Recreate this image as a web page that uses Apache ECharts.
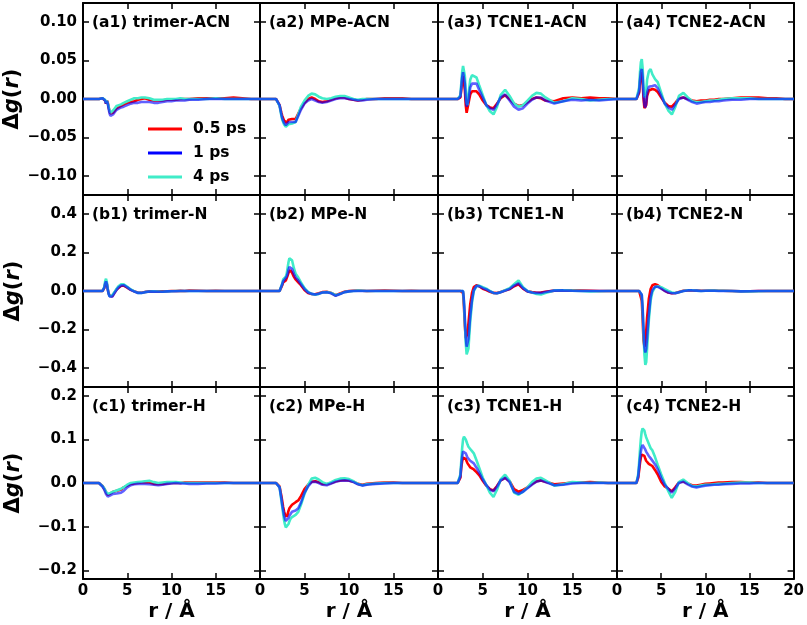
<!DOCTYPE html>
<html>
<head>
<meta charset="utf-8">
<script src="https://cdn.jsdelivr.net/npm/echarts@6/dist/echarts.min.js"></script>
<style>html,body{margin:0;padding:0;background:#fff}#c{width:807px;height:625px}</style>
</head>
<body>
<div id="c"></div>
<script>
// shared r grid (Å)
const R = [0,1.8,2.0,2.2, 2.4,2.5,2.6,2.7,2.8,2.9, 3.0,3.1,3.2,3.3,3.4,3.6,3.8, 4.0,4.3,4.6,5.0,5.4,5.8, 6.2,6.6,7.0,7.5,8.0,8.5, 9.0,9.5,10,10.5,11,11.5, 12,13,14,15,16,17,18,19,20];
const seriesNames = ['0.5 ps','1 ps','4 ps'];
const panelTitles = [
  '(a1) trimer-ACN','(a2) MPe-ACN','(a3) TCNE1-ACN','(a4) TCNE2-ACN',
  '(b1) trimer-N','(b2) MPe-N','(b3) TCNE1-N','(b4) TCNE2-N',
  '(c1) trimer-H','(c2) MPe-H','(c3) TCNE1-H','(c4) TCNE2-H'];
const xTicks = [0,5,10,15,20];
const xLabelsInner = [0,5,10,15];
const xLabelsLast = [0,5,10,15,20];
const yTicksA = [-0.10,-0.05,0.00,0.05,0.10];
const yTicksB = [-0.4,-0.2,0.0,0.2,0.4];
const yTicksC = [-0.2,-0.1,0.0,0.1,0.2];

const a1_red  = [0,0,0,0.001, 0.002,-0.002,-0.006,-0.002,-0.005,-0.011, -0.016,-0.019,-0.021,-0.020,-0.018,-0.015,-0.012, -0.010,-0.009,-0.007,-0.005,-0.004,-0.003, -0.001,0.000,0.001,-0.001,-0.002,-0.002, -0.002,-0.001,-0.001,-0.001,0.000,0.000, 0.000,0.001,0.001,0.001,0.001,0.002,0.001,0.000,0.000];
const a1_blue = [0,0,0,0.001, 0.002,-0.002,-0.006,-0.003,-0.006,-0.013, -0.019,-0.022,-0.023,-0.022,-0.020,-0.017,-0.014, -0.012,-0.011,-0.010,-0.008,-0.006,-0.005, -0.005,-0.004,-0.004,-0.004,-0.005,-0.005, -0.004,-0.003,-0.003,-0.002,-0.002,-0.002, -0.001,-0.001,0.000,0.000,0.000,0.000,0.000,0.000,0.000];
const a1_turq = [0,0,0,0.001, 0.002,-0.001,-0.005,-0.002,-0.004,-0.010, -0.015,-0.018,-0.019,-0.017,-0.015,-0.012,-0.009, -0.008,-0.007,-0.005,-0.003,-0.001,0.001, 0.001,0.002,0.002,0.001,-0.001,-0.001, -0.001,0.000,0.000,0.000,0.001,0.000, 0.000,0.000,0.000,0.001,0.000,0.000,0.000,0.000,0.000];

const a2_red  = [0,0,0,-0.008, -0.018,-0.022,-0.025,-0.028,-0.029,-0.030, -0.031,-0.029,-0.027,-0.026,-0.026,-0.026,-0.027, -0.026,-0.019,-0.012,-0.005,0.000,0.002, 0.000,-0.003,-0.004,-0.003,-0.001,0.001, 0.002,0.002,0.000,-0.001,-0.002,-0.001, 0.000,0.000,0.001,0.001,0.001,0.000,0.000,0.000,0.000];
const a2_blue = [0,0,0,-0.008, -0.020,-0.025,-0.028,-0.031,-0.033,-0.034, -0.034,-0.032,-0.030,-0.029,-0.030,-0.030,-0.031, -0.030,-0.022,-0.014,-0.006,-0.002,0.000, -0.002,-0.004,-0.005,-0.004,-0.002,0.000, 0.001,0.001,0.000,-0.001,-0.002,-0.002, -0.001,0.000,0.000,0.000,0.000,0.000,0.000,0.000,0.000];
const a2_turq = [0,0,0,-0.009, -0.022,-0.027,-0.030,-0.033,-0.035,-0.036, -0.037,-0.035,-0.033,-0.032,-0.032,-0.032,-0.033, -0.030,-0.020,-0.010,-0.002,0.004,0.007, 0.006,0.003,0.001,0.000,0.001,0.003, 0.004,0.004,0.002,0.000,-0.001,0.000, 0.000,0.000,0.000,0.000,0.000,0.000,0.000,0.000,0.000];

const a3_red  = [0,0,0,0, 0,0.002,0.012,0.024,0.030,0.028, 0.012,-0.008,-0.018,-0.016,-0.006,0.006,0.010, 0.011,0.010,0.006,-0.002,-0.008,-0.011, -0.012,-0.006,0.001,0.005,0.000,-0.006, -0.009,-0.008,-0.004,0.000,0.002,0.001, -0.002,-0.003,0.001,0.002,0.001,0.002,0.001,0.001,0.000];
const a3_blue = [0,0,0,0, 0,0.003,0.015,0.028,0.035,0.033, 0.020,0.000,-0.010,-0.012,-0.002,0.015,0.020, 0.022,0.020,0.012,0.002,-0.008,-0.012, -0.014,-0.007,0.002,0.006,-0.002,-0.010, -0.014,-0.012,-0.006,-0.001,0.002,0.002, -0.002,-0.006,-0.003,-0.001,-0.002,-0.001,-0.002,-0.001,0.000];
const a3_turq = [0,0,0,0, 0,0.005,0.020,0.035,0.043,0.045, 0.030,0.010,-0.005,-0.008,0.005,0.025,0.031, 0.032,0.028,0.018,0.005,-0.008,-0.016, -0.020,-0.010,0.005,0.012,0.004,-0.006, -0.010,-0.008,-0.002,0.004,0.008,0.007, 0.002,-0.005,-0.003,0.001,0.000,-0.002,-0.001,0.000,0.000];

const a4_red  = [0,0,0,0, 0,0.008,0.022,0.032,0.035,0.022, 0.000,-0.012,-0.014,-0.008,0.004,0.011,0.012, 0.013,0.012,0.009,0.002,-0.005,-0.009, -0.010,-0.005,0.001,0.002,0.000,-0.002, -0.003,-0.002,-0.002,-0.001,-0.001,0.000, 0.000,0.001,0.002,0.002,0.002,0.001,0.001,0.000,0.000];
const a4_blue = [0,0,0,0, 0,0.010,0.025,0.036,0.039,0.028, 0.005,-0.008,-0.011,-0.005,0.008,0.016,0.018, 0.017,0.018,0.014,0.004,-0.006,-0.011, -0.014,-0.007,0.000,0.002,-0.001,-0.004, -0.006,-0.005,-0.004,-0.004,-0.003,-0.003, -0.002,-0.001,-0.001,0.000,0.000,0.000,0.000,0.000,0.000];
const a4_turq = [0,0,0,0, 0,0.015,0.035,0.048,0.052,0.040, 0.015,0.002,0.000,0.010,0.025,0.036,0.039, 0.032,0.026,0.022,0.008,-0.006,-0.015, -0.020,-0.010,0.004,0.008,0.002,-0.003, -0.004,-0.004,-0.003,-0.002,-0.002,-0.001, 0.000,0.001,0.001,0.001,0.000,0.000,0.000,0.000,0.000];

const b1_red  = [0,0,0,0, 0.015,0.035,0.048,0.035,0.008,-0.012, -0.024,-0.030,-0.032,-0.027,-0.020,-0.006,0.008, 0.018,0.027,0.028,0.018,0.006,-0.002, -0.008,-0.009,-0.005,-0.002,-0.001,-0.002, -0.002,-0.001,0.000,0.000,0.001,0.000, 0.002,0.001,0.000,0.001,0.000,0.000,0.000,0.000,0.000];
const b1_blue = [0,0,0,0, 0.016,0.038,0.050,0.036,0.006,-0.016, -0.028,-0.034,-0.036,-0.030,-0.022,-0.008,0.006, 0.018,0.028,0.030,0.019,0.006,-0.003, -0.010,-0.010,-0.006,-0.003,-0.003,-0.004, -0.004,-0.002,-0.001,-0.001,0.000,0.000, 0.000,0.000,0.000,0.000,0.000,0.000,0.000,0.000,0.000];
const b1_turq = [0,0,0,0, 0.020,0.050,0.064,0.045,0.010,-0.015, -0.028,-0.033,-0.030,-0.022,-0.015,-0.002,0.012, 0.025,0.035,0.035,0.022,0.008,-0.002, -0.010,-0.010,-0.006,-0.003,-0.002,-0.003, -0.004,-0.002,-0.001,0.000,0.000,0.000, 0.000,0.000,0.000,0.000,0.000,0.000,0.000,0.000,0.000];

const b2_red  = [0,0,0,0, 0.008,0.030,0.045,0.050,0.052,0.055, 0.065,0.080,0.095,0.105,0.108,0.095,0.075, 0.060,0.045,0.030,0.005,-0.010,-0.016, -0.017,-0.012,-0.006,-0.004,-0.010,-0.022, -0.013,-0.004,0.000,0.001,0.002,0.001, 0.000,0.001,0.002,0.001,0.000,0.001,0.000,0.000,0.000];
const b2_blue = [0,0,0,0, 0.009,0.035,0.050,0.058,0.062,0.065, 0.075,0.090,0.110,0.125,0.130,0.115,0.090, 0.070,0.055,0.035,0.010,-0.008,-0.015, -0.018,-0.014,-0.008,-0.007,-0.012,-0.025, -0.016,-0.006,-0.002,0.000,0.000,0.000, 0.000,0.000,0.000,0.000,0.000,0.000,0.000,0.000,0.000];
const b2_turq = [0,0,0,0, 0.010,0.040,0.060,0.065,0.070,0.075, 0.090,0.120,0.150,0.170,0.178,0.160,0.120, 0.090,0.070,0.045,0.015,-0.005,-0.015, -0.020,-0.015,-0.008,-0.006,-0.010,-0.022, -0.015,-0.006,-0.002,0.000,0.002,0.001, 0.000,0.000,0.000,0.000,0.000,0.000,0.000,0.000,0.000];

const b3_red  = [0,0,0,0, 0,0,0,0,-0.010,-0.080, -0.180,-0.245,-0.250,-0.220,-0.170,-0.070,-0.010, 0.020,0.030,0.025,0.012,0.005,-0.004, -0.010,-0.011,-0.005,0.003,0.010,0.025, 0.035,0.012,-0.002,-0.006,-0.009,-0.008, -0.004,0.002,0.004,0.003,0.002,0.001,0.000,0.000,0.000];
const b3_blue = [0,0,0,0, 0,0,0,0,0,-0.050, -0.140,-0.240,-0.290,-0.290,-0.250,-0.130,-0.045, 0.005,0.027,0.025,0.015,0.008,-0.002, -0.010,-0.012,-0.006,0.002,0.010,0.028, 0.040,0.015,-0.002,-0.008,-0.010,-0.010, -0.005,0.002,0.003,0.001,0.000,0.000,0.000,0.000,0.000];
const b3_turq = [0,0,0,0, 0,0,0,0,0,-0.060, -0.160,-0.270,-0.330,-0.340,-0.300,-0.160,-0.060, 0.000,0.025,0.028,0.020,0.012,0.000, -0.010,-0.012,-0.006,0.004,0.015,0.035, 0.055,0.020,0.000,-0.008,-0.015,-0.018, -0.010,0.003,0.004,0.002,0.000,-0.002,-0.001,0.000,0.000];

const b4_red  = [0,0,0,0, 0,0,0,-0.010,-0.050,-0.150, -0.260,-0.290,-0.270,-0.210,-0.140,-0.040,0.010, 0.030,0.036,0.030,0.015,0.002,-0.008, -0.012,-0.010,-0.005,0.001,0.003,0.003, 0.002,0.001,0.001,0.002,0.002,0.001, 0.001,0.000,-0.001,-0.001,0.000,0.000,0.000,0.000,0.000];
const b4_blue = [0,0,0,0, 0,0,0,0,-0.020,-0.090, -0.200,-0.290,-0.320,-0.300,-0.240,-0.120,-0.030, 0.005,0.022,0.022,0.012,0.000,-0.008, -0.012,-0.012,-0.006,0.000,0.003,0.003, 0.002,0.000,0.001,0.001,0.001,0.000, 0.000,0.000,-0.002,-0.001,0.000,0.000,0.000,0.000,0.000];
const b4_turq = [0,0,0,0, 0,0,0,0,-0.020,-0.100, -0.220,-0.330,-0.385,-0.370,-0.300,-0.150,-0.050, -0.005,0.020,0.025,0.020,0.010,0.000, -0.008,-0.010,-0.006,0.000,0.004,0.004, 0.002,0.000,0.001,0.002,0.002,0.001, 0.001,0.000,-0.002,-0.002,-0.001,0.000,0.000,0.000,0.000];

const c1_red  = [0,0,-0.002,-0.007, -0.013,-0.017,-0.021,-0.024,-0.027,-0.026, -0.025,-0.024,-0.023,-0.022,-0.020,-0.019,-0.018, -0.018,-0.015,-0.010,-0.006,-0.002,-0.001, 0.000,0.001,0.002,0.001,-0.002,-0.003, -0.002,-0.001,0.000,0.000,0.000,0.001, 0.001,0.001,0.001,0.001,0.001,0.000,0.000,0.000,0.000];
const c1_blue = [0,0,-0.002,-0.008, -0.015,-0.020,-0.025,-0.028,-0.031,-0.030, -0.029,-0.028,-0.027,-0.026,-0.025,-0.024,-0.024, -0.023,-0.022,-0.018,-0.010,-0.005,-0.003, -0.002,-0.002,-0.002,-0.003,-0.004,-0.005, -0.004,-0.002,-0.001,0.000,-0.001,-0.001, -0.002,-0.002,-0.001,-0.001,0.000,0.000,0.000,0.000,0.000];
const c1_turq = [0,0,-0.002,-0.007, -0.012,-0.016,-0.020,-0.023,-0.025,-0.025, -0.024,-0.023,-0.022,-0.021,-0.020,-0.018,-0.017, -0.016,-0.013,-0.010,-0.004,0.000,0.001, 0.002,0.003,0.004,0.005,0.002,0.000, 0.001,0.002,0.002,0.002,0.001,0.000, 0.000,0.000,0.000,0.000,0.000,0.000,0.000,0.000,0.000];

const c2_red  = [0,0,0,-0.008, -0.030,-0.042,-0.055,-0.065,-0.072,-0.076, -0.077,-0.072,-0.064,-0.058,-0.055,-0.050,-0.046, -0.044,-0.040,-0.030,-0.014,-0.004,0.003, 0.004,0.002,-0.002,-0.003,0.000,0.004, 0.006,0.007,0.006,0.003,-0.002,-0.004, -0.002,0.000,0.001,0.001,0.000,0.000,0.000,0.000,0.000];
const c2_blue = [0,0,0,-0.010, -0.035,-0.050,-0.062,-0.074,-0.082,-0.087, -0.088,-0.085,-0.080,-0.075,-0.071,-0.066,-0.064, -0.063,-0.058,-0.045,-0.022,-0.008,0.002, 0.003,0.000,-0.004,-0.005,-0.001,0.003, 0.005,0.006,0.005,0.002,-0.003,-0.006, -0.004,-0.002,-0.001,0.000,0.000,0.000,0.000,0.000,0.000];
const c2_turq = [0,0,0,-0.010, -0.040,-0.055,-0.070,-0.085,-0.095,-0.102, -0.104,-0.100,-0.094,-0.088,-0.083,-0.078,-0.075, -0.073,-0.066,-0.050,-0.025,-0.005,0.010, 0.012,0.008,0.002,-0.002,0.002,0.007, 0.010,0.011,0.009,0.004,-0.002,-0.005, -0.003,-0.001,0.000,0.000,0.000,0.000,0.000,0.000,0.000];

const c3_red  = [0,0,0,0, 0,0.012,0.035,0.050,0.058,0.061, 0.060,0.055,0.050,0.045,0.041,0.036,0.033, 0.031,0.025,0.018,0.005,-0.006,-0.014, -0.017,-0.007,0.006,0.012,0.004,-0.014, -0.020,-0.016,-0.010,-0.002,0.004,0.006, 0.003,-0.003,-0.001,0.001,0.001,0.002,0.001,0.000,0.000];
const c3_blue = [0,0,0,0, 0,0.015,0.040,0.060,0.072,0.076, 0.074,0.068,0.063,0.058,0.055,0.051,0.048, 0.045,0.035,0.024,0.008,-0.005,-0.015, -0.019,-0.008,0.006,0.012,0.002,-0.020, -0.025,-0.020,-0.012,-0.004,0.003,0.006, 0.002,-0.005,-0.004,-0.001,0.000,0.000,0.000,0.000,0.000];
const c3_turq = [0,0,0,0, 0,0.020,0.050,0.080,0.100,0.106, 0.107,0.100,0.094,0.088,0.083,0.078,0.073, 0.068,0.052,0.035,0.012,-0.005,-0.022, -0.032,-0.015,0.008,0.019,0.005,-0.022, -0.027,-0.020,-0.010,0.002,0.010,0.012, 0.006,-0.006,-0.003,0.002,0.001,0.000,0.001,0.000,0.000];

const c4_red  = [0,0,0,0, 0.012,0.028,0.045,0.058,0.065,0.067, 0.066,0.062,0.056,0.051,0.048,0.044,0.041, 0.039,0.030,0.020,0.003,-0.008,-0.013, -0.019,-0.010,0.001,0.004,-0.001,-0.005, -0.006,-0.004,-0.002,-0.001,0.000,0.001, 0.001,0.002,0.002,0.001,0.001,0.000,0.000,0.000,0.000];
const c4_blue = [0,0,0,0, 0.015,0.035,0.055,0.072,0.082,0.087, 0.088,0.083,0.077,0.072,0.068,0.062,0.057, 0.053,0.043,0.032,0.012,-0.004,-0.013, -0.022,-0.012,0.000,0.003,-0.003,-0.008, -0.010,-0.008,-0.006,-0.005,-0.004,-0.004, -0.003,-0.002,-0.001,-0.001,0.000,0.000,0.000,0.000,0.000];
const c4_turq = [0,0,0,0, 0.020,0.045,0.075,0.100,0.118,0.125, 0.127,0.120,0.112,0.105,0.100,0.090,0.080, 0.075,0.060,0.042,0.020,0.000,-0.018, -0.034,-0.020,0.002,0.008,0.000,-0.007, -0.008,-0.006,-0.004,-0.004,-0.003,-0.002, -0.002,0.000,0.001,0.001,0.000,0.000,0.000,0.000,0.000];

const panels = [
  [a1_red,a1_blue,a1_turq],[a2_red,a2_blue,a2_turq],[a3_red,a3_blue,a3_turq],[a4_red,a4_blue,a4_turq],
  [b1_red,b1_blue,b1_turq],[b2_red,b2_blue,b2_turq],[b3_red,b3_blue,b3_turq],[b4_red,b4_blue,b4_turq],
  [c1_red,c1_blue,c1_turq],[c2_red,c2_blue,c2_turq],[c3_red,c3_blue,c3_turq],[c4_red,c4_blue,c4_turq]];

// ---- layout / styling ----
const FONT = 'DejaVu Sans';
const colLeft = [83, 260, 438, 617];
const colWidth = [177, 178, 179, 177];
const rowTop = [3, 195, 387];
const rowH = 192;
const rowRange = [0.125, 0.5, 0.22];
const rowTicks = [yTicksA, yTicksB, yTicksC];
const rowDec = [2, 1, 1];
const colors = ['#ff0000', '#0000ff', '#40ecc8'];
const zOrder = [2, 4, 3];
const lineOpacity = [1, 0.62, 1];

const grid = [], xAxis = [], xAxisTop = [], yAxis = [], yAxisRight = [], series = [], title = [];
const lineStyleAx = {color: '#000', width: 2};
const tickAx = {inside: true, length: 6, lineStyle: {color: '#000', width: 1.5}};
for (let p = 0; p < 12; p++) {
  const row = Math.floor(p / 4), col = p % 4;
  grid.push({left: colLeft[col], top: rowTop[row], width: colWidth[col], height: rowH});
  title.push({text: panelTitles[p], left: colLeft[col] + 9, top: rowTop[row] + 12, padding: 0,
    textStyle: {fontFamily: FONT, fontSize: 15.5, fontWeight: 'bold', color: '#000'}});
  const xa = {gridIndex: p, type: 'value', min: 0, max: 20,
    axisLine: {show: true, onZero: false, lineStyle: lineStyleAx},
    axisTick: Object.assign({customValues: xTicks}, tickAx),
    splitLine: {show: false},
    axisLabel: {show: row === 2, customValues: col === 3 ? xLabelsLast : xLabelsInner,
      color: '#000', fontFamily: FONT, fontSize: 15, fontWeight: 'bold', margin: 5}};
  if (row === 2) {
    xa.name = 'r / Å'; xa.nameLocation = 'middle'; xa.nameGap = 23;
    xa.nameTextStyle = {fontFamily: FONT, fontSize: 20, fontWeight: 'bold', color: '#000'};
  }
  xAxis.push(xa);
  xAxisTop.push({gridIndex: p, type: 'value', position: 'top', min: 0, max: 20,
    axisLine: {show: true, onZero: false, lineStyle: lineStyleAx},
    axisTick: Object.assign({customValues: xTicks}, tickAx),
    splitLine: {show: false}, axisLabel: {show: false}});
  const dec = rowDec[row];
  const ya = {gridIndex: p, type: 'value', min: -rowRange[row], max: rowRange[row],
    axisLine: {show: true, onZero: false, lineStyle: lineStyleAx},
    axisTick: Object.assign({show: true, customValues: rowTicks[row]}, tickAx),
    splitLine: {show: false},
    axisLabel: {show: col === 0, customValues: rowTicks[row], color: '#000', fontFamily: FONT,
      fontSize: 15, fontWeight: 'bold', margin: 6,
      formatter: v => (v < -1e-9 ? '\u2212' : '') + Math.abs(v).toFixed(dec)}};
  if (col === 0) {
    ya.name = '{a|Δ}{b|g}{a|(}{b|r}{a|)}';
    ya.nameLocation = 'middle'; ya.nameRotate = 90; ya.nameGap = 59;
    ya.nameTextStyle = {rich: {
      a: {fontFamily: FONT, fontSize: 21, fontWeight: 'bold', color: '#000'},
      b: {fontFamily: FONT, fontSize: 21, fontWeight: 'bold', fontStyle: 'italic', color: '#000'}}};
  }
  yAxis.push(ya);
  yAxisRight.push({gridIndex: p, type: 'value', position: 'right', min: -rowRange[row], max: rowRange[row],
    axisLine: {show: true, onZero: false, lineStyle: lineStyleAx},
    axisTick: Object.assign({show: true, customValues: rowTicks[row]}, tickAx),
    splitLine: {show: false}, axisLabel: {show: false}});
  [0, 1, 2].forEach(s => {
    series.push({type: 'line', name: seriesNames[s], xAxisIndex: p, yAxisIndex: p,
      data: R.map((r, i) => [r, panels[p][s][i]]),
      showSymbol: false, symbol: 'none', color: colors[s],
      lineStyle: {width: 2.6, color: colors[s], opacity: lineOpacity[s]},
      z: zOrder[s], silent: true, clip: true});
  });
}

const chart = echarts.init(document.getElementById('c'), null, {renderer: 'canvas'});
chart.setOption({
  animation: false,
  backgroundColor: '#fff',
  title: title,
  grid: grid,
  xAxis: xAxis.concat(xAxisTop),
  yAxis: yAxis.concat(yAxisRight),
  legend: {data: seriesNames, orient: 'vertical', left: 143, top: 116, icon: 'rect',
    itemWidth: 34, itemHeight: 3, itemGap: 8,
    itemStyle: {opacity: 1},
    textStyle: {fontFamily: FONT, fontSize: 15.5, fontWeight: 'bold', color: '#000', padding: [0, 0, 0, 6]}},
  series: series
});
</script>
</body>
</html>
